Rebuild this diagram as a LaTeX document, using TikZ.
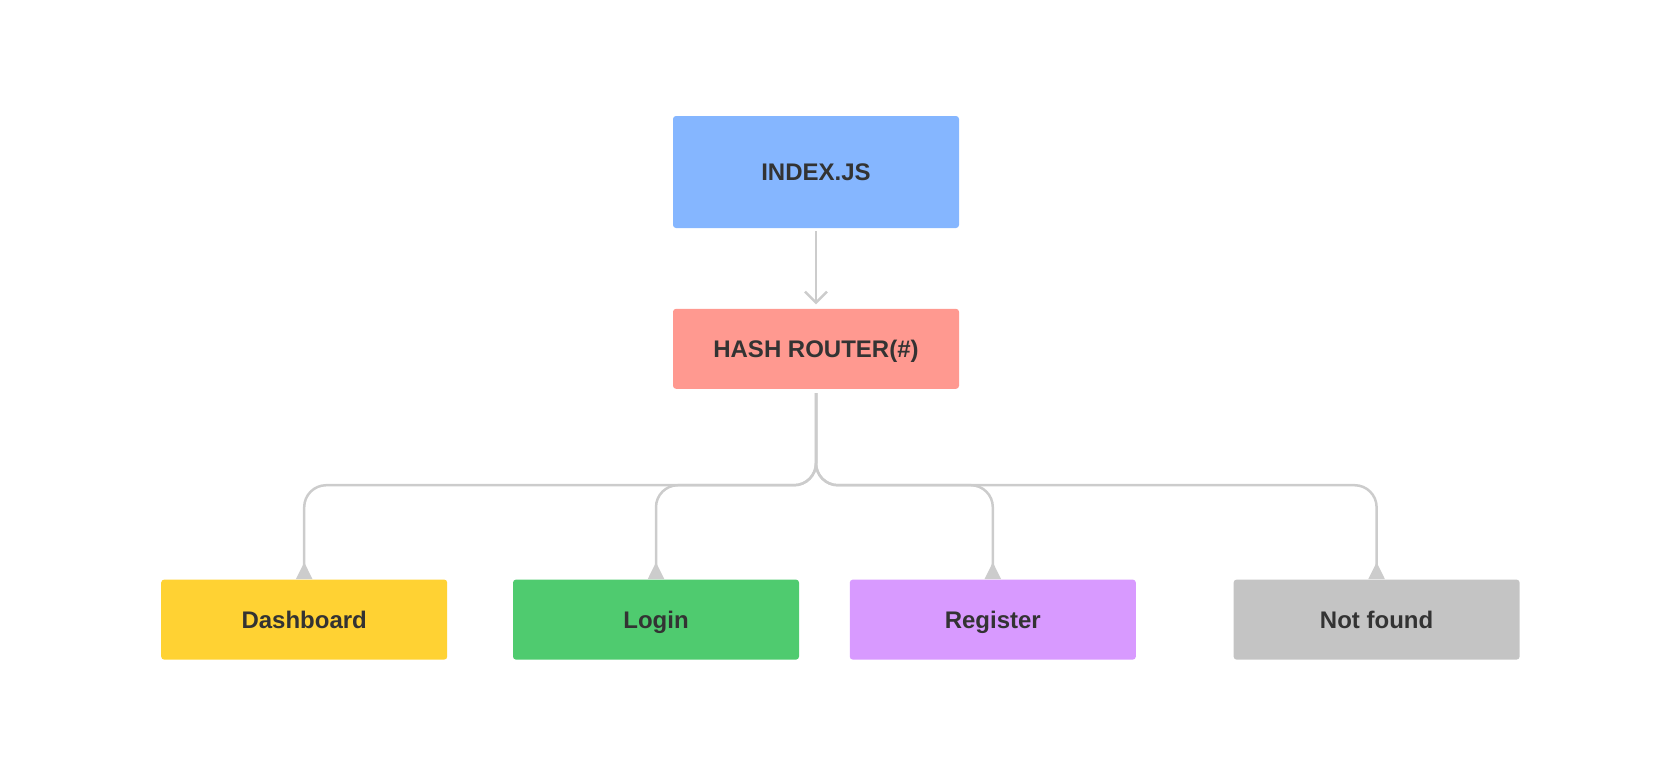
\documentclass[tikz,border=0pt]{standalone}
\usepackage{fontspec}
\setmainfont{Liberation Sans}
\usetikzlibrary{arrows.meta,positioning}
\definecolor{indexblue}{HTML}{85B6FF}
\definecolor{routerred}{HTML}{FF9990}
\definecolor{dashyellow}{HTML}{FFD233}
\definecolor{logingreen}{HTML}{4FCB6F}
\definecolor{registerpurple}{HTML}{D89AFF}
\definecolor{missinggray}{HTML}{C4C4C4}
\definecolor{linegray}{HTML}{CCCCCC}
\definecolor{textgray}{HTML}{333333}
\tikzset{
    box/.style={
        rounded corners=1.5pt,
        align=center,
        minimum width=143pt,
        minimum height=40pt,
        text height=8.6pt,
        text depth=0pt,
        text=textgray,
        font=\fontsize{12pt}{14pt}\selectfont\bfseries
    },
    tall/.style={
        box,
        minimum height=56pt
    },
    arrow/.style={
        -{Straight Barb[length=5.5pt,width=11pt]},
        draw=linegray,
        line width=1.25pt,
        shorten <=1.5pt,
        shorten >=2pt
    },
    branch/.style={
        -{Triangle[reversed,length=8.5pt,width=8pt]},
        draw=linegray,
        line width=1.25pt,
        rounded corners=11pt,
        shorten <=2pt
    }
}

\begin{document}
\begin{tikzpicture}[node distance=40pt and 30pt]

\useasboundingbox (0,0) rectangle (840pt,-388.5pt);

\node[tall, fill=indexblue] (index) at (408pt,-86pt) {INDEX.JS};
\node[box, fill=routerred, below=of index] (router) {HASH ROUTER(\#)};
\node[box, fill=dashyellow, below left=95pt and 112.5pt of router.south west,
    anchor=north east] (dash) {Dashboard};
\node[box, fill=logingreen, right=32.5pt of dash] (login) {Login};
\node[box, fill=registerpurple, right=25pt of login] (register) {Register};
\node[box, fill=missinggray, right=48.5pt of register] (missing) {Not found};

\draw[arrow] (index) -- (router);
\draw[branch] (router.south) -- ++(0,-48pt) -| (dash.north);
\draw[branch] (router.south) -- ++(0,-48pt) -| (login.north);
\draw[branch] (router.south) -- ++(0,-48pt) -| (register.north);
\draw[branch] (router.south) -- ++(0,-48pt) -| (missing.north);

\end{tikzpicture}
\end{document}
